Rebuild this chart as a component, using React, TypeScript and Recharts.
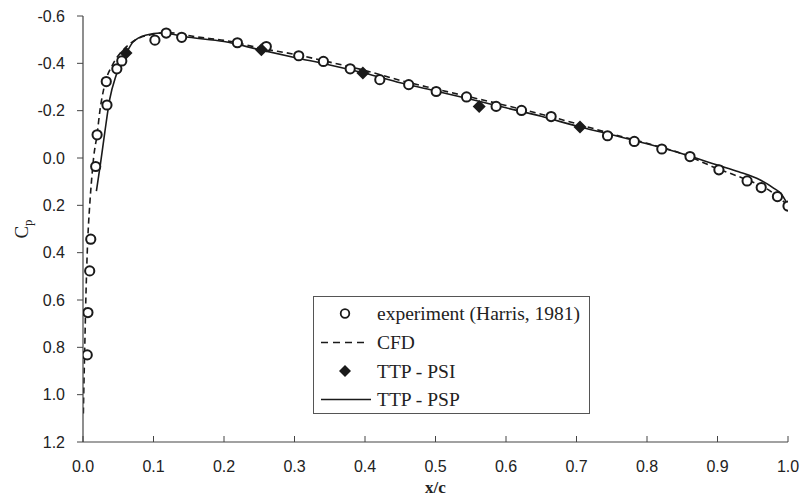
import { ComposedChart, Line, Scatter, XAxis, YAxis, Legend } from "recharts";

// x/c ticks and Cp ticks (Cp axis runs negative up)
const X_TICKS = [0, 0.1, 0.2, 0.3, 0.4, 0.5, 0.6, 0.7, 0.8, 0.9, 1.0];
const Y_TICKS = [-0.6, -0.4, -0.2, 0, 0.2, 0.4, 0.6, 0.8, 1.0, 1.2];

const SERIES_NAMES = ["experiment (Harris, 1981)", "CFD", "TTP - PSI", "TTP - PSP"];

// experiment (Harris, 1981)
const expX = [0.006, 0.007, 0.0095, 0.011, 0.018, 0.02, 0.034, 0.033, 0.048, 0.055, 0.102, 0.118, 0.14, 0.219, 0.26, 0.306, 0.341, 0.379, 0.421, 0.462, 0.501, 0.544, 0.586, 0.622, 0.664, 0.744, 0.782, 0.821, 0.861, 0.902, 0.942, 0.962, 0.985, 1.0];
const expCp = [0.832, 0.653, 0.477, 0.343, 0.036, -0.098, -0.224, -0.323, -0.377, -0.41, -0.498, -0.528, -0.51, -0.487, -0.471, -0.432, -0.408, -0.377, -0.331, -0.31, -0.281, -0.258, -0.218, -0.201, -0.175, -0.094, -0.07, -0.038, -0.006, 0.05, 0.097, 0.125, 0.163, 0.203];

// CFD
const cfdX = [0.0005, 0.001, 0.0025, 0.004, 0.006, 0.0095, 0.012, 0.015, 0.02, 0.024, 0.03, 0.043, 0.055, 0.075, 0.1, 0.12, 0.16, 0.21, 0.25, 0.3, 0.35, 0.4, 0.45, 0.5, 0.55, 0.6, 0.65, 0.7, 0.75, 0.8, 0.85, 0.9, 0.94, 0.97, 1.0];
const cfdCp = [1.08, 1.0, 0.8, 0.6, 0.4, 0.2, 0.1, 0.0, -0.1, -0.2, -0.3, -0.4, -0.45, -0.5, -0.523, -0.53, -0.512, -0.492, -0.465, -0.438, -0.405, -0.37, -0.328, -0.292, -0.257, -0.222, -0.185, -0.145, -0.102, -0.062, -0.018, 0.045, 0.09, 0.13, 0.2];

// TTP - PSI
const psiX = [0.061, 0.253, 0.397, 0.562, 0.705];
const psiCp = [-0.444, -0.457, -0.359, -0.218, -0.131];

// TTP - PSP
const pspX = [0.019, 0.025, 0.031, 0.038, 0.047, 0.061, 0.071, 0.09, 0.11, 0.15, 0.2, 0.25, 0.3, 0.35, 0.4, 0.45, 0.5, 0.55, 0.6, 0.65, 0.7, 0.75, 0.8, 0.85, 0.9, 0.93, 0.96, 0.98, 0.99, 1.0];
const pspCp = [0.14, 0.02, -0.11, -0.25, -0.35, -0.44, -0.49, -0.52, -0.528, -0.51, -0.492, -0.458, -0.425, -0.393, -0.358, -0.318, -0.283, -0.248, -0.212, -0.176, -0.135, -0.098, -0.06, -0.018, 0.03, 0.058, 0.092, 0.128, 0.15, 0.2];

const toPoints = (xs: number[], ys: number[]) => xs.map((x, i) => ({ x, cp: ys[i] }));

const expData = toPoints(expX, expCp);
const cfdData = toPoints(cfdX, cfdCp);
const psiData = toPoints(psiX, psiCp);
const pspData = toPoints(pspX, pspCp);

const INK = "#1a1a1a";
const AXIS = "#444";
const SANS = "'Liberation Sans', Arial, sans-serif";
const SERIF = "'Liberation Serif', 'Times New Roman', serif";

const OpenCircle = (props: any) => (
  <circle cx={props.cx} cy={props.cy} r={4.6} fill="#fff" stroke={INK} strokeWidth={2} />
);

const Diamond = (props: any) => {
  const { cx, cy } = props;
  const d = 6.5;
  return <polygon points={`${cx},${cy - d} ${cx + d},${cy} ${cx},${cy + d} ${cx - d},${cy}`} fill={INK} />;
};

// x ticks point inward (up from the axis)
const XTick = (props: any) => {
  const { x, y, payload } = props;
  const axisY = y - 10;
  return (
    <g>
      <line x1={x} y1={axisY} x2={x} y2={axisY - 6} stroke={AXIS} />
      <text x={x} y={axisY + 30} textAnchor="middle" fill="#222" fontSize={16} fontFamily={SANS}>
        {Number(payload.value).toFixed(1)}
      </text>
    </g>
  );
};

const XLabel = (props: any) => {
  const { viewBox } = props;
  return (
    <text
      x={viewBox.x + viewBox.width / 2}
      y={viewBox.y + 51}
      textAnchor="middle"
      fill="#222"
      fontSize={17}
      fontWeight="bold"
      fontFamily={SERIF}
    >
      x/c
    </text>
  );
};

const LegendBox = () => {
  const rowY = [16.5, 45.5, 74, 102.5];
  return (
    <div style={{ width: 277, height: 118, border: "1px solid #555", boxSizing: "border-box", background: "#fff" }}>
      <svg width={275} height={116} style={{ display: "block" }}>
        <circle cx={31} cy={rowY[0]} r={4.3} fill="#fff" stroke={INK} strokeWidth={1.8} />
        <line x1={7} y1={rowY[1]} x2={55} y2={rowY[1]} stroke={INK} strokeWidth={1.6} strokeDasharray="7 5" />
        <polygon points={`31,${rowY[2] - 6} 37,${rowY[2]} 31,${rowY[2] + 6} 25,${rowY[2]}`} fill={INK} />
        <line x1={7} y1={rowY[3]} x2={57} y2={rowY[3]} stroke={INK} strokeWidth={1.6} />
        {SERIES_NAMES.map((name, i) => (
          <text key={name} x={63} y={rowY[i] + 6.5} fill="#222" fontSize={19.5} fontFamily={SERIF}>
            {name}
          </text>
        ))}
      </svg>
    </div>
  );
};

export default function App() {
  return (
    <div style={{ position: "absolute", left: 0, top: 0, width: 803, height: 497, background: "#fff" }}>
      <ComposedChart width={803} height={497} margin={{ top: 16, right: 15, bottom: 15, left: 23 }}>
        <XAxis
          dataKey="x"
          type="number"
          domain={[0, 1]}
          ticks={X_TICKS}
          allowDataOverflow
          height={40}
          tickSize={0}
          tickMargin={10}
          tickLine={false}
          axisLine={{ stroke: AXIS, strokeWidth: 1.2 }}
          tick={<XTick />}
          label={<XLabel />}
        />
        <YAxis
          dataKey="cp"
          type="number"
          domain={[-0.6, 1.2]}
          ticks={Y_TICKS}
          reversed
          allowDataOverflow
          width={60}
          tickSize={6}
          tickMargin={12}
          tickLine={{ stroke: AXIS }}
          axisLine={{ stroke: AXIS, strokeWidth: 1.2 }}
          tick={{ fill: "#222", fontSize: 16, fontFamily: SANS }}
          tickFormatter={(v: number) => v.toFixed(1)}
        />
        <Line
          data={cfdData}
          dataKey="cp"
          name={SERIES_NAMES[1]}
          type="monotone"
          stroke={INK}
          strokeWidth={1.6}
          strokeDasharray="6 4"
          dot={false}
          activeDot={false}
          isAnimationActive={false}
        />
        <Line
          data={pspData}
          dataKey="cp"
          name={SERIES_NAMES[3]}
          type="monotone"
          stroke={INK}
          strokeWidth={1.6}
          dot={false}
          activeDot={false}
          isAnimationActive={false}
        />
        <Scatter
          data={expData}
          dataKey="cp"
          name={SERIES_NAMES[0]}
          shape={<OpenCircle />}
          isAnimationActive={false}
        />
        <Scatter
          data={psiData}
          dataKey="cp"
          name={SERIES_NAMES[2]}
          shape={<Diamond />}
          isAnimationActive={false}
        />
        <Legend
          layout="vertical"
          align="center"
          verticalAlign="middle"
          width={277}
          height={118}
          wrapperStyle={{ left: 313, top: 296 }}
          content={<LegendBox />}
        />
      </ComposedChart>
      {/* y-axis title, reads bottom to top */}
      <svg width={40} height={60} style={{ position: "absolute", left: 2, top: 199, overflow: "visible" }}>
        <text
          transform="rotate(-90 26 30)"
          x={26}
          y={30}
          textAnchor="middle"
          fill="#222"
          fontFamily={SERIF}
          fontSize={19}
        >
          C<tspan fontSize={13} dy={4}>p</tspan>
        </text>
      </svg>
    </div>
  );
}
